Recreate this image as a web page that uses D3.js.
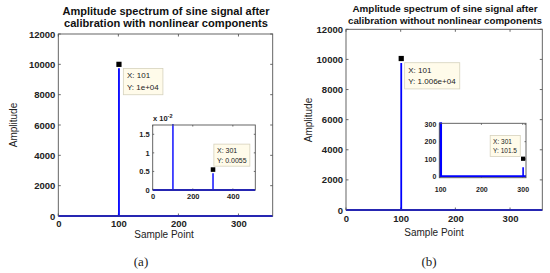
<!DOCTYPE html>
<html>
<head>
<meta charset="utf-8">
<script src="https://cdn.jsdelivr.net/npm/d3@7"></script>
<style>
  html, body { margin: 0; padding: 0; background: #fff; }
  svg { display: block; font-family: "Liberation Sans", Arial, sans-serif; }
</style>
</head>
<body>
<svg id="chart" width="550" height="273"></svg>
<script>
// values
const mainXTicks = [0, 100, 200, 300];
const mainYTicks = [0, 2000, 4000, 6000, 8000, 10000, 12000];

// (a) with nonlinear components
const leftStemX = [101, 301];
const leftStemY = [9750, 0.0045];        // stem tops as drawn
const leftTipX = [101, 301];
const leftTipY = [10000, 0.0055];         // data tip values
const leftTipText = [["X: 101", "Y: 1e+04"], ["X: 301", "Y: 0.0055"]];
const leftInsetXTicks = [0, 200, 400];
const leftInsetYTicks = [0, 0.005, 0.01, 0.015];
const leftInsetYLabels = ["0", "0.5", "1", "1.5"];

// (b) without nonlinear components
const rightStemX = [101, 301];
const rightStemY = [9760, 52];
const rightTipX = [101, 301];
const rightTipY = [10060, 101.5];
const rightTipText = [["X: 101", "Y: 1.006e+04"], ["X: 301", "Y: 101.5"]];
const rightInsetXTicks = [100, 200, 300];
const rightInsetYTicks = [0, 100, 200, 300];

const baseline = [[0, 0], [512, 0]];      // near-zero floor of the spectrum

const BLUE = "#0000ff";
const svg = d3.select("#chart");
const defs = svg.append("defs");
let clipCount = 0;

function drawAxes(box, xDomain, yDomain, opt) {
    const x = d3.scaleLinear().domain(xDomain).range([box.x0, box.x1]);
    const y = d3.scaleLinear().domain(yDomain).range([box.y1, box.y0]);
    const g = svg.append("g");

    // background + clip
    g.append("rect")
        .attr("x", box.x0).attr("y", box.y0)
        .attr("width", box.x1 - box.x0).attr("height", box.y1 - box.y0)
        .attr("fill", "#fff");
    const cid = "clip" + (clipCount++);
    defs.append("clipPath").attr("id", cid)
        .append("rect")
        .attr("x", box.x0).attr("y", box.y0 - 1)
        .attr("width", box.x1 - box.x0).attr("height", box.y1 - box.y0 + 2);

    // ticks, inward on all sides
    const tl = opt.tickLen;
    const xa = d3.axisBottom(x).tickValues(opt.xTicks).tickSize(0).tickFormat(d3.format("d"));
    g.append("g").attr("transform", `translate(0,${box.y1})`).call(xa)
        .call(s => s.select(".domain").remove())
        .call(s => s.selectAll("text")
            .attr("dy", null).attr("y", opt.xLabelDy)
            .style("font-size", opt.fs + "px").style("font-weight", "bold")
            .attr("fill", "#222"));
    const ya = d3.axisLeft(y).tickValues(opt.yTicks).tickSize(0)
        .tickFormat((d, i) => opt.yLabels ? opt.yLabels[i] : d3.format("d")(d));
    g.append("g").attr("transform", `translate(${box.x0},0)`).call(ya)
        .call(s => s.select(".domain").remove())
        .call(s => s.selectAll("text")
            .attr("x", -opt.yLabelDx)
            .style("font-size", opt.fs + "px").style("font-weight", "bold")
            .attr("fill", "#222"));

    const tickG = g.append("g").attr("stroke", "#444").attr("stroke-width", 0.8);
    opt.xTicks.forEach(v => {
        tickG.append("line").attr("x1", x(v)).attr("x2", x(v)).attr("y1", box.y1).attr("y2", box.y1 - tl);
        tickG.append("line").attr("x1", x(v)).attr("x2", x(v)).attr("y1", box.y0).attr("y2", box.y0 + tl);
    });
    opt.yTicks.forEach(v => {
        tickG.append("line").attr("y1", y(v)).attr("y2", y(v)).attr("x1", box.x0).attr("x2", box.x0 + tl);
        tickG.append("line").attr("y1", y(v)).attr("y2", y(v)).attr("x1", box.x1).attr("x2", box.x1 - tl);
    });

    const plot = g.append("g").attr("clip-path", `url(#${cid})`);
    // floor line
    plot.append("path")
        .datum(baseline)
        .attr("d", d3.line().x(d => x(d[0])).y(d => y(d[1])))
        .attr("stroke", BLUE).attr("stroke-width", 2).attr("fill", "none");
    // stems
    plot.selectAll(".stem")
        .data(opt.stemX.map((v, i) => [v, opt.stemY[i]]))
        .enter().append("line")
        .attr("class", "stem")
        .attr("x1", d => x(d[0])).attr("x2", d => x(d[0]))
        .attr("y1", y(0)).attr("y2", d => y(d[1]))
        .attr("stroke", BLUE)
        .attr("stroke-width", (d, i) => opt.stemW[i]);

    // box
    g.append("rect")
        .attr("x", box.x0).attr("y", box.y0)
        .attr("width", box.x1 - box.x0).attr("height", box.y1 - box.y0)
        .attr("fill", "none").attr("stroke", "#555").attr("stroke-width", 0.9);

    return { x, y, g };
}

function dataTip(ax, tx, ty, lines, fs, off) {
    const px = ax.x(tx), py = ax.y(ty);
    const tip = ax.g.append("g");
    const txt = tip.append("text")
        .style("font-size", fs + "px").attr("fill", "#222");
    lines.forEach((l, i) => {
        txt.append("tspan").attr("x", px + off[0]).attr("y", py + off[1] + i * fs * 1.45).text(l);
    });
    const bb = txt.node().getBBox();
    tip.insert("rect", "text")
        .attr("x", bb.x - fs * 0.45).attr("y", bb.y - fs * 0.35)
        .attr("width", bb.width + fs * 0.9).attr("height", bb.height + fs * 0.7)
        .attr("fill", "#fffbea").attr("stroke", "#d6d2bd").attr("stroke-width", 0.8);
    const m = fs * 0.65;
    tip.append("rect")
        .attr("x", px - m / 2).attr("y", py - m / 2).attr("width", m).attr("height", m)
        .attr("fill", "#000");
}

// two-line bold title, each line squeezed to the measured width
function title(cx, y0, lines, size, widths) {
    const t = svg.append("text")
        .attr("text-anchor", "middle")
        .style("font-size", size + "px").style("font-weight", "bold").attr("fill", "#111");
    lines.forEach((l, i) => t.append("tspan")
        .attr("x", cx).attr("y", y0 + i * 12.5)
        .attr("textLength", widths[i]).attr("lengthAdjust", "spacingAndGlyphs")
        .text(l));
}

function label(x, y, txt, rot, size, family) {
    svg.append("text")
        .attr("transform", `translate(${x},${y}) rotate(${rot})`)
        .attr("text-anchor", "middle")
        .style("font-size", size + "px")
        .style("font-family", family || null)
        .attr("fill", "#222")
        .text(txt);
}

// ---------- panel (a) ----------
const aMain = drawAxes({ x0: 58.3, x1: 272.7, y0: 34, y1: 216 }, [0, 357], [0, 12000], {
    xTicks: mainXTicks, yTicks: mainYTicks, tickLen: 2.5, fs: 9.5, xLabelDy: 11, yLabelDx: 3,
    stemX: leftStemX, stemY: leftStemY, stemW: [1.8, 1.8]
});
dataTip(aMain, leftTipX[0], leftTipY[0], leftTipText[0], 8, [8, 14]);
const aIn = drawAxes({ x0: 152.7, x1: 255.3, y0: 125, y1: 190 }, [0, 512], [0, 0.0175], {
    xTicks: leftInsetXTicks, yTicks: leftInsetYTicks, yLabels: leftInsetYLabels,
    tickLen: 1.5, fs: 7.5, xLabelDy: 9, yLabelDx: 3,
    stemX: leftStemX, stemY: leftStemY, stemW: [1.4, 1.4]
});
dataTip(aIn, leftTipX[1], leftTipY[1], leftTipText[1], 7, [4, -17]);
svg.append("text").attr("x", 153).attr("y", 121)
    .style("font-size", "7.5px").style("font-weight", "bold").attr("fill", "#222")
    .text("x 10").append("tspan").attr("dy", -3).style("font-size", "5.5px").text("-2");

title(166, 14.5, ["Amplitude spectrum of sine signal after", "calibration with nonlinear components"],
    10.6, [207, 204]);
label(164, 238, "Sample Point", 0, 10);
label(17, 125, "Amplitude", -90, 10);
label(141, 266, "(a)", 0, 13, "'Liberation Serif', serif");

// ---------- panel (b) ----------
const bMain = drawAxes({ x0: 346, x1: 542.3, y0: 29.3, y1: 210 }, [0, 359], [0, 12000], {
    xTicks: mainXTicks, yTicks: mainYTicks, tickLen: 2.5, fs: 9.5, xLabelDy: 12, yLabelDx: 3,
    stemX: rightStemX, stemY: rightStemY, stemW: [1.8, 1.8]
});
dataTip(bMain, rightTipX[0], rightTipY[0], rightTipText[0], 8, [7, 14]);
const bIn = drawAxes({ x0: 439.3, x1: 526, y0: 123.3, y1: 177.7 }, [98, 308], [-8, 306], {
    xTicks: rightInsetXTicks, yTicks: rightInsetYTicks,
    tickLen: 1.5, fs: 7, xLabelDy: 14, yLabelDx: 3,
    stemX: rightStemX, stemY: rightStemY, stemW: [3, 1.6]
});
dataTip(bIn, rightTipX[1], rightTipY[1], rightTipText[1], 6.5, [-30, -15]);

title(445, 11.5, ["Amplitude spectrum of sine signal after", "calibration without nonlinear components"],
    9.6, [185, 194]);
label(434, 236, "Sample Point", 0, 10);
label(312, 120, "Amplitude", -90, 10);
label(429, 266, "(b)", 0, 13, "'Liberation Serif', serif");
</script>
</body>
</html>
